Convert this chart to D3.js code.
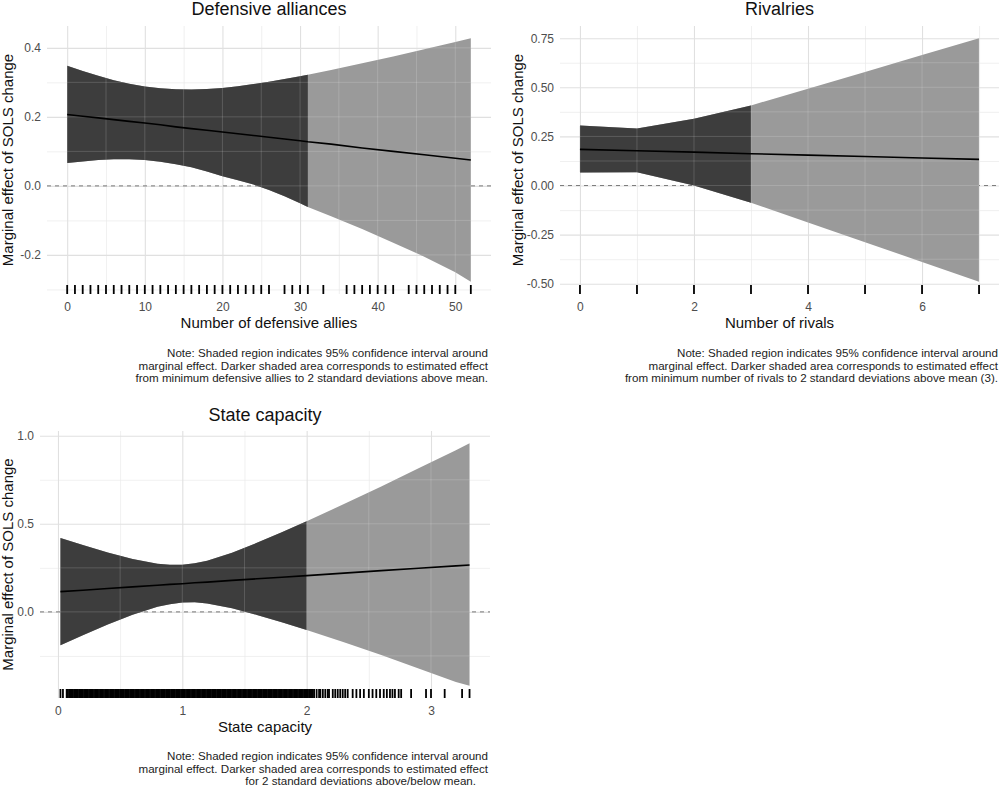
<!DOCTYPE html>
<html><head><meta charset="utf-8">
<script src="https://cdn.jsdelivr.net/npm/d3@7"></script>
<style>body{margin:0;background:#fff}svg{display:block;font-family:"Liberation Sans",Arial,Helvetica,sans-serif}</style>
</head><body><svg id="c" width="1000" height="794"></svg>
<script>
// ---------- Panel 1: Defensive alliances ----------
const alliesX  = [0,2,4,6,8,10,12,14,16,18,20,22,24,26,28,30,31,34,38,42,46,50,52];
const alliesEst= [0.207,0.202,0.197,0.192,0.187,0.182,0.177,0.171,0.166,0.161,0.156,0.151,0.146,0.141,0.136,0.131,0.128,0.121,0.110,0.100,0.090,0.080,0.075];
const alliesHi = [0.348,0.333,0.319,0.306,0.296,0.288,0.283,0.280,0.279,0.281,0.284,0.289,0.295,0.302,0.310,0.318,0.322,0.336,0.355,0.375,0.396,0.417,0.428];
const alliesLo = [0.066,0.071,0.075,0.077,0.077,0.075,0.070,0.063,0.054,0.042,0.028,0.016,0.004,-0.012,-0.030,-0.050,-0.061,-0.088,-0.125,-0.165,-0.205,-0.250,-0.278];
const alliesDarkMax = 31;
const alliesRug = [0,1,2,3,4,5,6,7,8,9,10,11,12,13,14,15,16,17,18,19,20,21,22,23,24,25,26,28,29,30,31,33,36,37,38,39,40,41,42,44,45,46,47,48,49,50,52];
const alliesXTicks = [0,10,20,30,40,50];
const alliesXLabels = ["0","10","20","30","40","50"];
const alliesXMinor = [5,15,25,35,45];
const alliesYTicks = [-0.2,0,0.2,0.4];
const alliesYLabels = ["-0.2","0.0","0.2","0.4"];
const alliesYMinor = [-0.3,-0.1,0.1,0.3];

// ---------- Panel 2: Rivalries ----------
const rivX   = [0,1,2,3,4,5,6,7];
const rivEst = [0.184,0.177,0.170,0.162,0.155,0.148,0.140,0.133];
const rivHi  = [0.306,0.290,0.340,0.408,0.493,0.578,0.664,0.750];
const rivLo  = [0.066,0.068,0.000,-0.087,-0.188,-0.288,-0.389,-0.490];
const rivDarkMax = 3;
const rivRug = [0,1,2,3,4,5,6,7];
const rivXTicks = [0,2,4,6];
const rivXLabels = ["0","2","4","6"];
const rivXMinor = [1,3,5,7];
const rivYTicks = [-0.5,-0.25,0,0.25,0.5,0.75];
const rivYLabels = ["-0.50","-0.25","0.00","0.25","0.50","0.75"];
const rivYMinor = [-0.375,-0.125,0.125,0.375,0.625];

// ---------- Panel 3: State capacity ----------
const capX   = [0.02,0.2,0.4,0.6,0.8,0.9,1.0,1.1,1.2,1.4,1.6,1.8,2.0,2.3,2.6,2.9,3.2,3.31];
const capEst = [0.115,0.123,0.133,0.142,0.151,0.156,0.160,0.165,0.169,0.179,0.188,0.197,0.206,0.220,0.234,0.248,0.261,0.266];
const capHi  = [0.419,0.379,0.337,0.300,0.273,0.267,0.267,0.276,0.291,0.336,0.392,0.452,0.515,0.612,0.712,0.815,0.918,0.958];
const capLo  = [-0.189,-0.132,-0.072,-0.016,0.029,0.044,0.053,0.054,0.047,0.021,-0.017,-0.059,-0.103,-0.172,-0.245,-0.322,-0.398,-0.420];
const capDarkMax = 2.0;
const capRug = [0.02,0.04,
0.07,0.08,0.09,0.10,0.11,0.12,0.13,0.14,0.15,0.16,0.17,0.18,0.19,0.20,0.21,0.22,0.23,0.24,0.25,0.26,0.27,0.28,0.29,
0.30,0.31,0.32,0.33,0.34,0.35,0.36,0.37,0.38,0.39,0.40,0.41,0.42,0.43,0.44,0.45,0.46,0.47,0.48,0.49,
0.50,0.51,0.52,0.53,0.54,0.55,0.56,0.57,0.58,0.59,0.60,0.61,0.62,0.63,0.64,0.65,0.66,0.67,0.68,0.69,
0.70,0.71,0.72,0.73,0.74,0.75,0.76,0.77,0.78,0.79,0.80,0.81,0.82,0.83,0.84,0.85,0.86,0.87,0.88,0.89,
0.90,0.91,0.92,0.93,0.94,0.95,0.96,0.97,0.98,0.99,1.00,1.01,1.02,1.03,1.04,1.05,1.06,1.07,1.08,1.09,
1.10,1.11,1.12,1.13,1.14,1.15,1.16,1.17,1.18,1.19,1.20,1.21,1.22,1.23,1.24,1.25,1.26,1.27,1.28,1.29,
1.30,1.31,1.32,1.33,1.34,1.35,1.36,1.37,1.38,1.39,1.40,1.41,1.42,1.43,1.44,1.45,1.46,1.47,1.48,1.49,
1.50,1.51,1.52,1.53,1.54,1.55,1.56,1.57,1.58,1.59,1.60,1.61,1.62,1.63,1.64,1.65,1.66,1.67,1.68,1.69,
1.70,1.71,1.72,1.73,1.74,1.75,1.76,1.77,1.78,1.79,1.80,1.81,1.82,1.83,1.84,1.85,1.86,1.87,1.88,1.89,
1.90,1.91,1.92,1.93,1.94,1.95,1.96,1.97,1.98,1.99,2.00,2.01,2.02,2.03,2.04,2.05,2.06,
2.08,2.10,2.11,2.13,2.15,2.17,2.18,2.21,2.23,2.25,2.27,2.29,2.31,2.33,2.37,2.40,2.43,2.46,2.50,2.53,2.56,2.59,
2.62,2.645,2.67,2.69,2.71,2.74,2.76,2.84,2.96,3.00,3.11,3.25,3.31];
const capXTicks = [0,1,2,3];
const capXLabels = ["0","1","2","3"];
const capXMinor = [0.5,1.5,2.5];
const capYTicks = [0,0.5,1.0];
const capYLabels = ["0.0","0.5","1.0"];
const capYMinor = [-0.25,0.25,0.75];

const yTitle = "Marginal effect of SOLS change";

const panels = [
  {title:"Defensive alliances", xTitle:"Number of defensive allies",
   x:alliesX, est:alliesEst, hi:alliesHi, lo:alliesLo, darkMax:alliesDarkMax, rug:alliesRug,
   xt:alliesXTicks, xl:alliesXLabels, xm:alliesXMinor, yt:alliesYTicks, yl:alliesYLabels, ym:alliesYMinor,
   box:{left:47,right:491,top:26,bottom:294}, titleY:15, ytX:13,
   note:["Note: Shaded region indicates 95% confidence interval around","marginal effect. Darker shaded area corresponds to estimated effect","from minimum defensive allies to 2 standard deviations above mean."],
   noteX:[488,488,488], noteY:357},
  {title:"Rivalries", xTitle:"Number of rivals",
   x:rivX, est:rivEst, hi:rivHi, lo:rivLo, darkMax:rivDarkMax, rug:rivRug,
   xt:rivXTicks, xl:rivXLabels, xm:rivXMinor, yt:rivYTicks, yl:rivYLabels, ym:rivYMinor,
   box:{left:560,right:999,top:26,bottom:294}, titleY:15, ytX:523,
   note:["Note: Shaded region indicates 95% confidence interval around","marginal effect. Darker shaded area corresponds to estimated effect","from minimum number of rivals to 2 standard deviations above mean (3)."],
   noteX:[998,998,998], noteY:357},
  {title:"State capacity", xTitle:"State capacity",
   x:capX, est:capEst, hi:capHi, lo:capLo, darkMax:capDarkMax, rug:capRug,
   xt:capXTicks, xl:capXLabels, xm:capXMinor, yt:capYTicks, yl:capYLabels, ym:capYMinor,
   box:{left:40,right:490,top:431,bottom:698}, titleY:421, ytX:13,
   note:["Note: Shaded region indicates 95% confidence interval around","marginal effect. Darker shaded area corresponds to estimated effect","for 2 standard deviations above/below mean."],
   noteX:[488,488,476], noteY:760}
];

const svg = d3.select("#c");
function expand(ext){const d=(ext[1]-ext[0])*0.05;return [ext[0]-d, ext[1]+d];}

panels.forEach((p,i)=>{
  const b=p.box;
  const xs=d3.scaleLinear().domain(expand(d3.extent(p.x.concat(p.rug)))).range([b.left,b.right]);
  const ys=d3.scaleLinear().domain(expand([d3.min(p.lo),d3.max(p.hi)])).range([b.bottom,b.top]);
  const g=svg.append("g");
  const W=b.right-b.left, H=b.bottom-b.top;

  const gridX=(vals,w,col)=>g.append("g").attr("transform",`translate(0,${b.bottom})`)
     .call(d3.axisBottom(xs).tickValues(vals).tickSize(-H).tickFormat(""))
     .call(s=>{s.select(".domain").remove();s.selectAll("line").attr("stroke",col).attr("stroke-width",w);});
  const gridY=(vals,w,col)=>g.append("g").attr("transform",`translate(${b.left},0)`)
     .call(d3.axisLeft(ys).tickValues(vals).tickSize(-W).tickFormat(""))
     .call(s=>{s.select(".domain").remove();s.selectAll("line").attr("stroke",col).attr("stroke-width",w);});
  gridX(p.xm,0.7,"#e9e9e9"); gridY(p.ym,0.7,"#e9e9e9");
  gridX(p.xt,1.1,"#e0e0e0"); gridY(p.yt,1.1,"#e0e0e0");

  g.append("line").attr("x1",b.left).attr("x2",b.right).attr("y1",ys(0)).attr("y2",ys(0))
   .attr("stroke","#7a7a7a").attr("stroke-width",1).attr("stroke-dasharray","4,4");

  const rows=p.x.map((x,k)=>({x,est:p.est[k],hi:p.hi[k],lo:p.lo[k]}));
  const area=d3.area().x(d=>xs(d.x)).y0(d=>ys(d.lo)).y1(d=>ys(d.hi));
  g.append("path").attr("d",area(rows)).attr("fill","#9a9a9a");
  g.append("path").attr("d",area(rows.filter(d=>d.x<=p.darkMax))).attr("fill","#3d3d3d");

  const cid="clip"+i;
  svg.append("clipPath").attr("id",cid).append("path").attr("d",area(rows));
  const ov=g.append("g").attr("clip-path",`url(#${cid})`);
  p.xt.concat(p.xm).forEach(v=>ov.append("line").attr("x1",xs(v)).attr("x2",xs(v)).attr("y1",b.top).attr("y2",b.bottom).attr("stroke","#fff").attr("stroke-opacity",0.16).attr("stroke-width",1));
  p.yt.concat(p.ym).forEach(v=>ov.append("line").attr("x1",b.left).attr("x2",b.right).attr("y1",ys(v)).attr("y2",ys(v)).attr("stroke","#fff").attr("stroke-opacity",0.16).attr("stroke-width",1));

  g.append("path").attr("d",d3.line().x(d=>xs(d.x)).y(d=>ys(d.est))(rows))
   .attr("fill","none").attr("stroke","#000").attr("stroke-width",1.6);

  g.append("g").selectAll("line").data(p.rug).join("line")
   .attr("x1",d=>xs(d)).attr("x2",d=>xs(d)).attr("y1",b.bottom-9).attr("y2",b.bottom)
   .attr("stroke","#000").attr("stroke-width",1.8);

  g.append("g").attr("transform",`translate(0,${b.bottom})`)
   .call(d3.axisBottom(xs).tickValues(p.xt).tickSize(0).tickPadding(8).tickFormat((d,k)=>p.xl[k]))
   .call(s=>{s.select(".domain").remove();s.selectAll("text").attr("fill","#4d4d4d").attr("font-size",12).attr("font-family",null);});
  g.append("g").attr("transform",`translate(${b.left},0)`)
   .call(d3.axisLeft(ys).tickValues(p.yt).tickSize(0).tickPadding(6).tickFormat((d,k)=>p.yl[k]))
   .call(s=>{s.select(".domain").remove();s.selectAll("text").attr("fill","#4d4d4d").attr("font-size",12).attr("font-family",null);});

  const cx=(b.left+b.right)/2;
  g.append("text").attr("x",cx).attr("y",p.titleY).attr("text-anchor","middle").attr("font-size",18).attr("fill","#111").text(p.title);
  g.append("text").attr("x",cx).attr("y",b.bottom+34).attr("text-anchor","middle").attr("font-size",15).attr("fill","#111").text(p.xTitle);
  g.append("text").attr("transform",`translate(${p.ytX},${(b.top+b.bottom)/2}) rotate(-90)`).attr("text-anchor","middle").attr("font-size",15).attr("fill","#111").text(yTitle);

  p.note.forEach((t,k)=>g.append("text").attr("x",p.noteX[k]).attr("y",p.noteY+k*12.5).attr("text-anchor","end")
     .attr("font-size",11.6).attr("fill","#222").text(t));
});
</script></body></html>
